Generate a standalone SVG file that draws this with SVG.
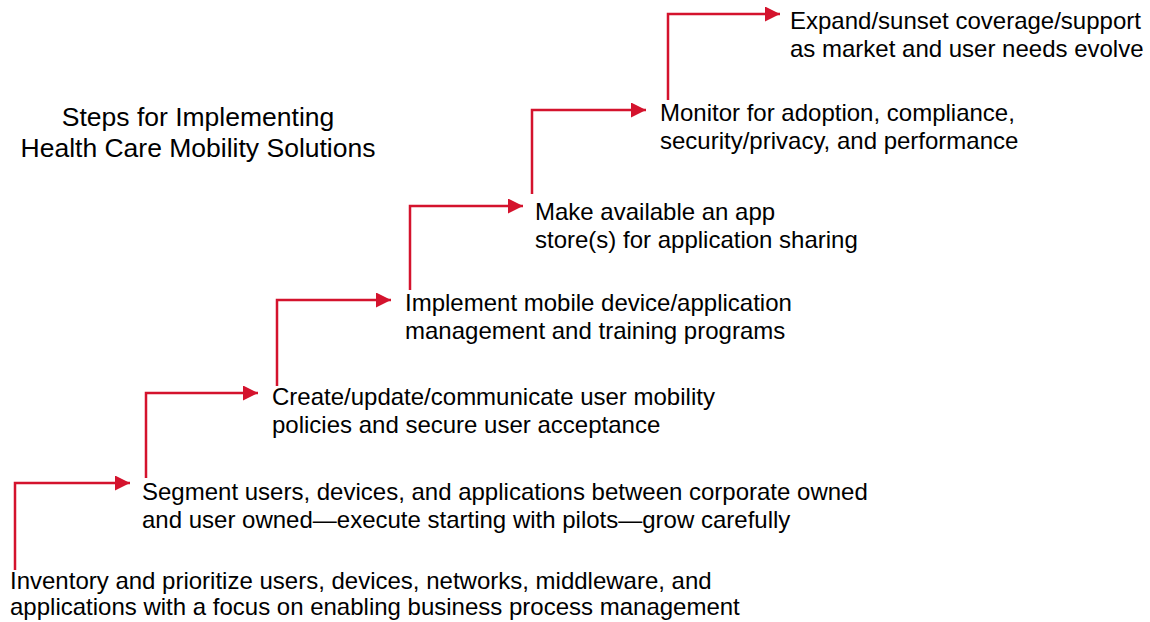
<svg xmlns="http://www.w3.org/2000/svg" width="1150" height="622" viewBox="0 0 1150 622">
  <style>
    .lbl { font-family: "Liberation Sans", Arial, sans-serif; font-size: 24px; fill: #000; }
    .ttl { font-family: "Liberation Sans", Arial, sans-serif; font-size: 26.5px; fill: #000; text-anchor: middle; }
    .step { fill: none; stroke: #d4132d; stroke-width: 2.5; }
  </style>
  <defs>
    <marker id="head" markerUnits="userSpaceOnUse" markerWidth="16" markerHeight="16" refX="15" refY="7.5" orient="auto">
      <path d="M0,0 L15,7.5 L0,15 z" fill="#d4132d"/>
    </marker>
  </defs>
  <rect width="1150" height="622" fill="#fff"/>

  <g id="title">
    <text class="ttl" x="198" y="126">Steps for Implementing</text>
    <text class="ttl" x="198" y="157">Health Care Mobility Solutions</text>
  </g>

  <g id="connectors">
    <path class="step" d="M15,570 V483 H130" marker-end="url(#head)"/>
    <path class="step" d="M146,478 V393 H258" marker-end="url(#head)"/>
    <path class="step" d="M277,386 V300 H391" marker-end="url(#head)"/>
    <path class="step" d="M410,290 V206 H523" marker-end="url(#head)"/>
    <path class="step" d="M532,194 V110 H646" marker-end="url(#head)"/>
    <path class="step" d="M668,100 V14 H780" marker-end="url(#head)"/>
  </g>

  <g id="step1">
    <text class="lbl" x="10" y="589">Inventory and prioritize users, devices, networks, middleware, and</text>
    <text class="lbl" x="10" y="615">applications with a focus on enabling business process management</text>
  </g>
  <g id="step2">
    <text class="lbl" x="142" y="500">Segment users, devices, and applications between corporate owned</text>
    <text class="lbl" x="142" y="528">and user owned—execute starting with pilots—grow carefully</text>
  </g>
  <g id="step3">
    <text class="lbl" x="272" y="405">Create/update/communicate user mobility</text>
    <text class="lbl" x="272" y="433">policies and secure user acceptance</text>
  </g>
  <g id="step4">
    <text class="lbl" x="405" y="311">Implement mobile device/application</text>
    <text class="lbl" x="405" y="339">management and training programs</text>
  </g>
  <g id="step5">
    <text class="lbl" x="535" y="220">Make available an app</text>
    <text class="lbl" x="535" y="248">store(s) for application sharing</text>
  </g>
  <g id="step6">
    <text class="lbl" x="660" y="121">Monitor for adoption, compliance,</text>
    <text class="lbl" x="660" y="149">security/privacy, and performance</text>
  </g>
  <g id="step7">
    <text class="lbl" x="790" y="29">Expand/sunset coverage/support</text>
    <text class="lbl" x="790" y="57">as market and user needs evolve</text>
  </g>
</svg>
